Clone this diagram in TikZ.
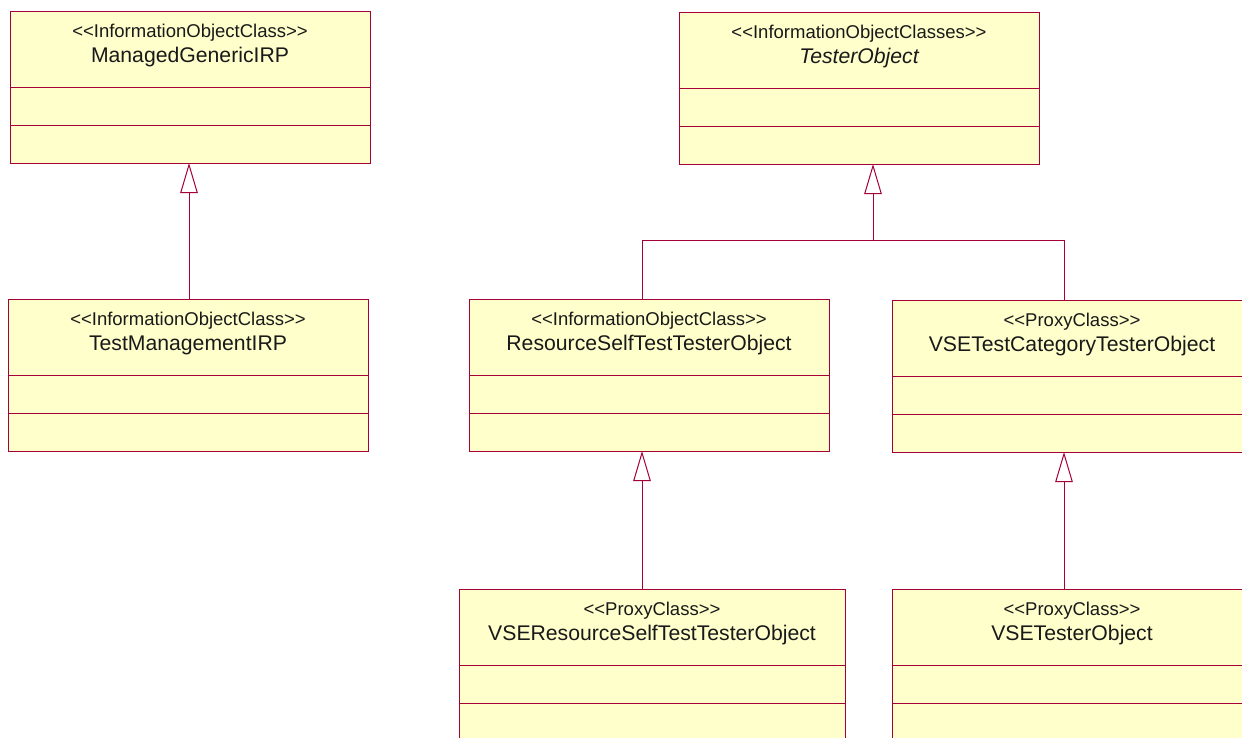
\documentclass[tikz,border=0pt]{standalone}
\usepackage{fontspec}
\setmainfont{Liberation Sans}
\usetikzlibrary{arrows.meta}
\definecolor{umlborder}{RGB}{165,0,55}
\definecolor{umlfill}{RGB}{255,255,204}
\tikzset{
  classbox/.style={draw=umlborder, fill=umlfill, line width=1pt, minimum height=152pt, inner sep=0pt, outer sep=0pt},
  compline/.style={draw=umlborder, line width=1pt},
  stereotxt/.style={font=\fontsize{18.5}{20}\selectfont, inner sep=0pt, text=black!90},
  titletxt/.style={font=\fontsize{21.2}{23}\selectfont, inner sep=0pt, text=black!90},
  conn/.style={draw=umlborder, line width=1pt},
  gen/.style={conn, -{Triangle[open, length=30pt, width=17.5pt, line width=1pt]}},
}
\newcommand\umlclass[6]{%
  \node[classbox, minimum width=#4pt, anchor=north west] (#1) at (#2,#3) {};
  \draw[compline] ([yshift=-76pt]#1.north west) -- ([yshift=-76pt]#1.north east);
  \draw[compline] ([yshift=-114pt]#1.north west) -- ([yshift=-114pt]#1.north east);
  \node[stereotxt, anchor=base] (#1-s) at ([yshift=-26pt]#1.north) {#5};
  \node[titletxt, anchor=base] (#1-t) at ([yshift=-51pt]#1.north) {#6};
}
\begin{document}
\begin{tikzpicture}[x=1pt,y=-1pt]
\useasboundingbox (0,0) rectangle (1242,737);
\clip (0,0) rectangle (1242,737);
\fill[white] (0,0) rectangle (1242,737);
\umlclass{mg}{10}{11}{360}{<{}<InformationObjectClass>{}>}{ManagedGenericIRP}
\umlclass{tm}{8}{299}{360}{<{}<InformationObjectClass>{}>}{TestManagementIRP}
\umlclass{to}{679}{12}{360}{<{}<InformationObjectClasses>{}>}{\itshape TesterObject}
\umlclass{rs}{469}{299}{360}{<{}<InformationObjectClass>{}>}{ResourceSelfTestTesterObject}
\umlclass{vc}{892}{300}{360}{<{}<ProxyClass>{}>}{VSETestCategoryTesterObject}
\umlclass{vr}{459}{589}{386}{<{}<ProxyClass>{}>}{VSEResourceSelfTestTesterObject}
\umlclass{vt}{892}{589}{360}{<{}<ProxyClass>{}>}{VSETesterObject}
% generalisations
\draw[gen] ([xshift=1pt]tm.north) -- ([xshift=1pt]tm.north |- mg.south);
\coordinate (j) at (873,240);
\draw[conn] ([xshift=-7pt]rs.north) |- (j);
\draw[conn] ([xshift=-8pt]vc.north) |- (j);
\draw[gen] (j) -- (j |- to.south);
\draw[gen] ([xshift=-10pt]vr.north) -- ([xshift=-10pt]vr.north |- rs.south);
\draw[gen] ([xshift=-8pt]vt.north) -- ([xshift=-8pt]vt.north |- vc.south);
\end{tikzpicture}
\end{document}
